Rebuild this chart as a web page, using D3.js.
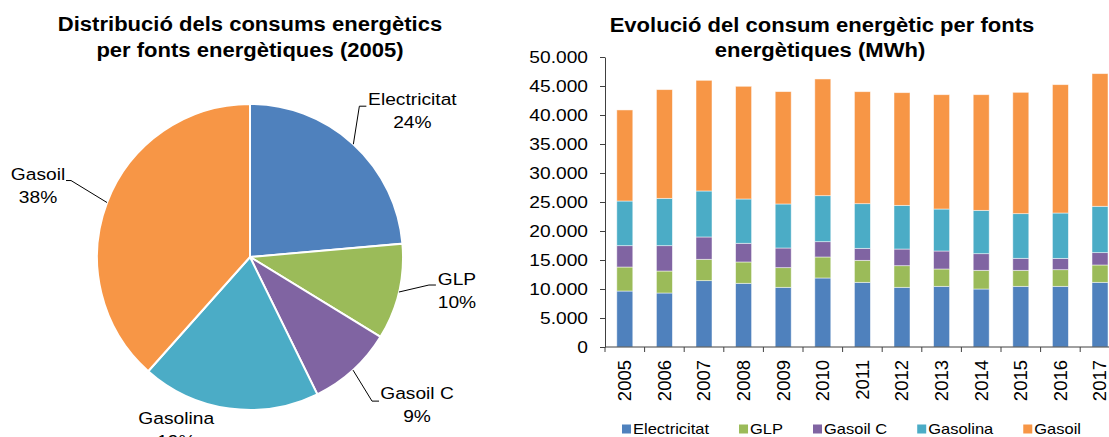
<!DOCTYPE html>
<html>
<head>
<meta charset="utf-8">
<script src="https://cdn.jsdelivr.net/npm/d3@7"></script>
<style>
  body { margin: 0; background: #fff; }
  svg { display: block; font-family: "Liberation Sans", Arial, sans-serif; }
</style>
</head>
<body>
<div id="chart"></div>
<script>
// dades (MWh)
var years = ["2005", "2006", "2007", "2008", "2009", "2010", "2011", "2012", "2013", "2014", "2015", "2016", "2017"];
var series = ["Electricitat", "GLP", "Gasoil C", "Gasolina", "Gasoil"];
var electricitat = [9650, 9310, 11440, 10980, 10290, 11900, 11150, 10290, 10460, 10000, 10460, 10460, 11150];
var glp = [4140, 3790, 3680, 3680, 3390, 3620, 3790, 3730, 2990, 3220, 2760, 2870, 2990];
var gasoilC = [3680, 4370, 3850, 3220, 3390, 2640, 2070, 2870, 3100, 2870, 2070, 1950, 2130];
var gasolina = [7700, 8160, 7930, 7640, 7590, 7930, 7700, 7530, 7240, 7470, 7700, 7820, 7990];
var gasoil = [15700, 18740, 19080, 19430, 19370, 20120, 19310, 19430, 19710, 19940, 20920, 22130, 22870];
var colors = ["#4F81BD", "#9BBB59", "#8064A2", "#4BACC6", "#F79646"];
var pieYear = "2005";

var values = [electricitat, glp, gasoilC, gasolina, gasoil];
var rows = years.map(function(y, i) {
  var r = { year: y };
  series.forEach(function(s, j) { r[s] = values[j][i]; });
  return r;
});

var K = 1.13; // text looks horizontally wide in the original

var svg = d3.select("#chart").append("svg")
  .attr("width", 1109)
  .attr("height", 437);

function addText(g, x, y, str, size, anchor, weight) {
  return g.append("text")
    .attr("transform", "translate(" + x + "," + y + ") scale(" + K + ",1)")
    .attr("text-anchor", anchor || "middle")
    .attr("font-size", size)
    .attr("font-weight", weight || "normal")
    .attr("fill", "#000")
    .text(str);
}

// ---- Pie ----
var pieG = svg.append("g");
addText(pieG, 250, 31, "Distribució dels consums energètics", 19.5, "middle", "bold");
addText(pieG, 250, 57, "per fonts energètiques (2005)", 19.5, "middle", "bold");

var idx = years.indexOf(pieYear);
var pieData = series.map(function(s, j) { return { name: s, value: values[j][idx], color: colors[j] }; });
var total = d3.sum(pieData, function(d) { return d.value; });

var cx = 250, cy = 257, R = 153;
var pie = d3.pie().sort(null).value(function(d) { return d.value; });
var arc = d3.arc().innerRadius(0).outerRadius(R);
var arcs = pie(pieData);

var pg = pieG.append("g").attr("transform", "translate(" + cx + "," + cy + ")");
pg.selectAll("path")
  .data(arcs)
  .enter()
  .append("path")
    .attr("d", arc)
    .attr("fill", function(d) { return d.data.color; })
    .attr("stroke", "#fff")
    .attr("stroke-width", 2);

// etiquetes del pastis
var labelLayout = [
  { elbow: [6, -38], tail: 7, text: [46, -7] },
  { elbow: [30, -7], tail: 7, text: [21, -6] },
  { elbow: [19, 31], tail: 7, text: [38, -8] },
  { elbow: null, tail: 0, text: [-53, 9] },
  { elbow: [-36, -22], tail: -5, text: [-28, -7] }
];
var pct = d3.format(".0%");

arcs.forEach(function(a, i) {
  var lay = labelLayout[i];
  var mid = (a.startAngle + a.endAngle) / 2;
  var ax = cx + R * Math.sin(mid);
  var ay = cy - R * Math.cos(mid);
  var ex = ax, ey = ay;
  if (lay.elbow) {
    var bx = ax + lay.elbow[0], by = ay + lay.elbow[1];
    ex = bx + lay.tail; ey = by;
    pieG.append("polyline")
      .attr("points", [[ax, ay], [bx, by], [ex, ey]].join(" "))
      .attr("fill", "none")
      .attr("stroke", "#000")
      .attr("stroke-width", 1);
  }
  var tx = ex + lay.text[0], ty = ey + lay.text[1];
  addText(pieG, tx, ty + 6, a.data.name, 17);
  addText(pieG, tx, ty + 29, pct(a.data.value / total), 17);
});

// ---- Barres ----
var barG = svg.append("g");
addText(barG, 822, 32, "Evolució del consum energètic per fonts", 19.5, "middle", "bold");
addText(barG, 820, 57, "energètiques (MWh)", 19.5, "middle", "bold");

var x0 = 605, step = 39.6;
var x = d3.scaleBand()
  .domain(years)
  .range([x0, x0 + step * years.length])
  .paddingInner(0.596)
  .paddingOuter(0.298);

var y = d3.scaleLinear()
  .domain([0, 50000])
  .range([347, 57]);

var stack = d3.stack().keys(series);
var stacked = stack(rows);

barG.selectAll("g.layer")
  .data(stacked)
  .enter()
  .append("g")
    .attr("class", "layer")
    .attr("fill", function(d, i) { return colors[i]; })
  .selectAll("rect")
  .data(function(d) { return d; })
  .enter()
  .append("rect")
    .attr("x", function(d) { return x(d.data.year); })
    .attr("y", function(d) { return y(d[1]); })
    .attr("width", x.bandwidth())
    .attr("height", function(d) { return y(d[0]) - y(d[1]); })
    .attr("stroke", "#fff")
    .attr("stroke-opacity", 0.6)
    .attr("stroke-width", 0.8);

// eix Y
var loc = d3.formatLocale({ decimal: ",", thousands: ".", grouping: [3], currency: ["", "€"] });
var yAxis = d3.axisLeft(y)
  .tickValues(d3.range(0, 50001, 5000))
  .tickFormat(loc.format(","))
  .tickSize(5)
  .tickSizeOuter(0)
  .tickPadding(12);

var yg = barG.append("g")
  .attr("transform", "translate(" + x0 + ",0)")
  .call(yAxis);
yg.select(".domain").attr("stroke", "#404040");
yg.selectAll(".tick line").attr("stroke", "#404040");
yg.selectAll(".tick text")
  .attr("font-size", 17)
  .attr("font-family", "Liberation Sans, Arial, sans-serif")
  .attr("fill", "#000")
  .attr("x", function() { return +d3.select(this).attr("x") / K; })
  .attr("transform", "scale(" + K + ",1)");

// eix X (marques entre categories)
var xEnd = x0 + step * years.length;
barG.append("line")
  .attr("x1", x0).attr("x2", xEnd)
  .attr("y1", y(0)).attr("y2", y(0))
  .attr("stroke", "#404040");
barG.selectAll("line.xtick")
  .data(d3.range(years.length + 1))
  .enter()
  .append("line")
    .attr("class", "xtick")
    .attr("x1", function(i) { return x0 + i * x.step(); })
    .attr("x2", function(i) { return x0 + i * x.step(); })
    .attr("y1", y(0))
    .attr("y2", y(0) + 5)
    .attr("stroke", "#404040");

barG.selectAll("text.year")
  .data(years)
  .enter()
  .append("text")
    .attr("class", "year")
    .attr("transform", function(d) {
      return "translate(" + (x(d) + x.bandwidth() / 2) + "," + 360 + ") rotate(-90)";
    })
    .attr("text-anchor", "end")
    .attr("dy", "0.35em")
    .attr("font-size", 18.5)
    .attr("fill", "#000")
    .text(function(d) { return d; });

// llegenda
var lx = 622, ly = 429;
series.forEach(function(s, i) {
  barG.append("rect")
    .attr("x", lx)
    .attr("y", ly - 4.5)
    .attr("width", 9)
    .attr("height", 9)
    .attr("fill", colors[i]);
  var t = addText(barG, lx + 11, ly + 5, s, 14.6, "start");
  lx = lx + 11 + t.node().getComputedTextLength() * K + 30;
});
</script>
</body>
</html>
